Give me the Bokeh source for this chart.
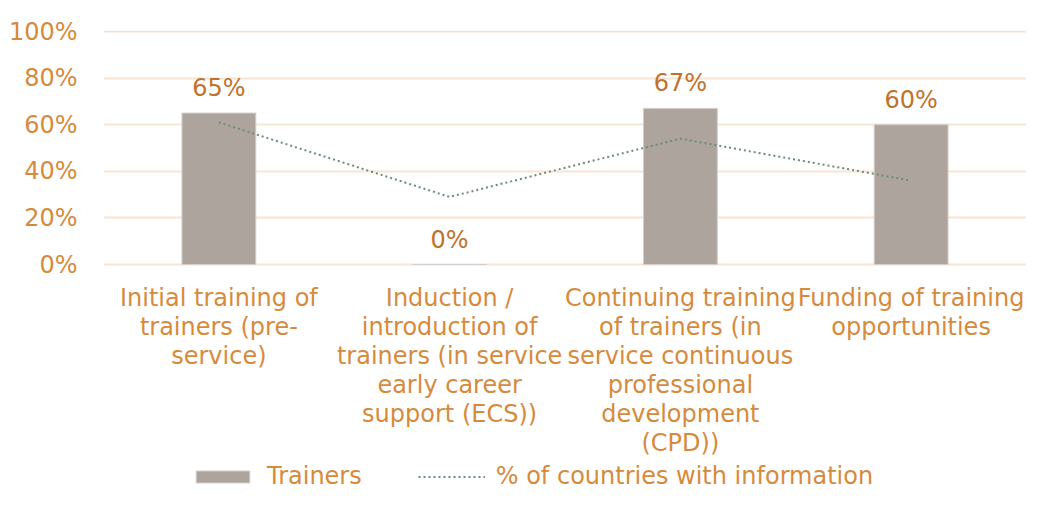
from bokeh.plotting import figure
from bokeh.models import ColumnDataSource, Legend, LegendItem, NumeralTickFormatter, FixedTicker
from bokeh.embed import file_html
from bokeh.resources import INLINE
from bokeh.core.properties import value

categories = [
    "Initial training of\ntrainers (pre-\nservice)",
    "Induction /\nintroduction of\ntrainers (in service\nearly career\nsupport (ECS))",
    "Continuing training\nof trainers (in\nservice continuous\nprofessional\ndevelopment\n(CPD))",
    "Funding of training\nopportunities",
]
trainers = [0.65, 0.0, 0.67, 0.60]
countries_info = [0.61, 0.29, 0.54, 0.36]
bar_labels = ["65%", "0%", "67%", "60%"]
y_ticks = [0, 0.2, 0.4, 0.6, 0.8, 1.0]

FONT = "DejaVu Sans"
TICK_COLOR = "#D68A3C"
LABEL_COLOR = "#C0722C"
FS = "24px"

src = ColumnDataSource(dict(cat=categories, trainers=trainers, info=countries_info,
                            lbl=bar_labels, base=[0.0] * len(categories)))

# frame spans from the 100% line down to the bottom of the canvas (labels + legend live inside)
top = 1 + 1 / 233
p = figure(x_range=categories, y_range=(top - 460 / 233, top), frame_width=923, frame_height=460,
           output_backend="svg", toolbar_location=None,
           min_border_left=103, min_border_right=0, min_border_top=30, min_border_bottom=0)
p.outline_line_color = None

bars = p.vbar(x="cat", top="trainers", width=0.32, source=src,
              fill_color="#ADA59D", line_color="#D3CEC9", line_width=1)
line = p.line(x="cat", y="info", source=src, line_color="#6E8B74", line_width=2,
              line_dash="2 3")
p.text(x="cat", y="trainers", text="lbl", source=src, text_align="center",
       text_baseline="middle", y_offset=-25, text_color=LABEL_COLOR,
       text_font=value(FONT), text_font_size=FS)
# category labels below the 0% line
p.text(x="cat", y="base", text="cat", source=src, text_align="center",
       text_baseline="top", y_offset=19, text_color=TICK_COLOR,
       text_font=value(FONT), text_font_size=FS, text_line_height=1.04)

p.yaxis.ticker = FixedTicker(ticks=y_ticks)
p.yaxis.formatter = NumeralTickFormatter(format="0%")
p.yaxis.axis_line_color = None
p.yaxis.major_tick_line_color = None
p.yaxis.minor_tick_line_color = None
p.yaxis.major_label_text_color = TICK_COLOR
p.yaxis.major_label_text_font = FONT
p.yaxis.major_label_text_font_size = FS
p.yaxis.major_label_standoff = 20

p.xaxis.visible = False
p.xgrid.grid_line_color = None
p.ygrid.grid_line_color = "#F8E4D2"
p.ygrid.grid_line_width = 2
p.ygrid.ticker = FixedTicker(ticks=y_ticks)

legend = Legend(items=[LegendItem(label="Trainers", renderers=[bars]),
                       LegendItem(label="% of countries with information", renderers=[line])],
                orientation="horizontal", location=(86, 0),
                label_text_color=TICK_COLOR, label_text_font=FONT, label_text_font_size=FS,
                glyph_width=67, glyph_height=15, spacing=56, border_line_color=None,
                background_fill_alpha=0,
                padding=0, margin=0, label_standoff=11)
p.add_layout(legend)

open("out.html", "w").write(file_html(p, INLINE))
